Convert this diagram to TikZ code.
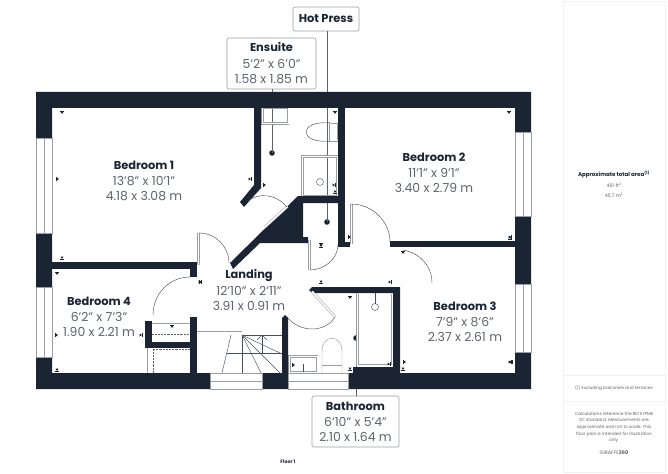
\documentclass[tikz,border=0pt]{standalone}
\usepackage{fontspec}
\usepackage{tikz}
\usetikzlibrary{positioning}
\setmainfont[Ligatures=NoCommon]{Poppins}
\definecolor{wallcol}{HTML}{1A2433}
\definecolor{dimcol}{HTML}{5F646B}
\definecolor{fixcol}{HTML}{9A9EA3}
\definecolor{panelcol}{HTML}{F0F0F0}

\begin{document}
\begin{tikzpicture}[
            x = 1pt,
            y = -1pt,
            node distance = 5.5pt, % gap between text lines
            semithick
            ]

        \tikzstyle{wall}=[fill = wallcol, draw = none]
        \tikzstyle{thinline}=[draw = wallcol!80, line width = 0.45pt]
        \tikzstyle{fixture}=[draw = fixcol, line width = 0.6pt, double = white, double distance = 1pt]
        \tikzstyle{leaf}=[draw = fixcol, line width = 0.5pt, double = white, double distance = 1.6pt]
        \tikzstyle{glass}=[draw = fixcol, line width = 0.5pt, fill = white]
        \tikzstyle{leader}=[draw = dimcol, line width = 0.45pt]
        \tikzstyle{roomname}=[inner sep = 0pt, yshift = -1pt, text height = 7.5pt, text depth = 1.5pt, font = \fontsize{11.4}{12}\selectfont\bfseries, text = wallcol]
        \tikzstyle{roomdim}=[inner sep = 0pt, text height = 7.5pt, text depth = 1.5pt, font = \fontsize{12.4}{13}\selectfont, text = dimcol]
        \tikzstyle{labelbox}=[draw = fixcol, line width = 0.6pt, fill = white, rounded corners = 2pt, inner sep = 0pt]
        \tikzstyle{small}=[inner sep = 0pt, align = center, text = dimcol, font = \fontsize{4.3}{6.7}\selectfont]

        \useasboundingbox (0,0) rectangle (668,473);
        \fill[white] (0,0) rectangle (668,473);

        % side panel
        \draw[panelcol, line width = 0.6pt] (563,1) -- (665,1) -- (665,472) -- (563,472) -- cycle;
        \draw[panelcol, line width = 0.6pt] (563,375) -- (665,375);
        \draw[panelcol, line width = 0.6pt] (563,401) -- (665,401);

        % label boxes
        \node[labelbox, minimum width = 66pt, minimum height = 24pt] (HOTBOX) at (326,19) {};
        \node[labelbox, minimum width = 89pt, minimum height = 51pt] (ENSBOX) at (271.5,63.5) {};
        \node[labelbox, minimum width = 87pt, minimum height = 51pt] (BATHBOX) at (355.5,421.5) {};

        % leaders with their dots
        \fill[wallcol] (272,153) circle (2.8pt) coordinate (ENSDOT);
        \fill[wallcol] (327,222) circle (2.8pt) coordinate (HOTDOT);
        \fill[wallcol] (356,338) circle (2.8pt) coordinate (BATHDOT);
        \draw[leader] (ENSBOX.south -| ENSDOT) -- (ENSDOT);
        \draw[leader] (HOTBOX.south -| HOTDOT) -- (HOTDOT);
        \draw[leader] (BATHBOX.north -| BATHDOT) -- (BATHDOT);

        % ensuite fittings
        \draw[fixture] (262.5,108) rectangle (288,123.5);
        \draw[fixture] (330,123) rectangle (338,141);
        \draw[thinline] (330,123) .. controls (298,120) and (298,144) .. (330,141);
        \draw[fixture] (302.5,156.5) rectangle (337.5,196);
        \draw[thinline] (320,182) circle (3.5pt);

        % bathroom fittings
        \draw[fixture] (357.5,293) rectangle (392,365);
        \draw[fixcol, line width = 1.6pt] (356.5,293) -- (356.5,366);
        \draw[thinline] (375,307) circle (3.5pt);
        \draw[thinline] (375,293) -- (375,303.5);
        \draw[fixture] (289.5,356.5) rectangle (317,372);
        \draw[thinline] (303,364) -- (303,372);
        \draw[thinline, draw = fixcol] (322,373) -- (322,351) .. controls (322,334) and (342,334) .. (342,351) -- (342,373);
        \draw[thinline, draw = fixcol] (322,365) -- (342,365);

        % bedroom 4 cupboards
        \draw[fixture] (152,324) -- (190,324);
        \draw[thinline, densely dotted, draw = dimcol] (152,334) -- (190,334);
        \draw[thinline, densely dotted, draw = dimcol] (153,349) rectangle (190,373);
        \draw[fixture] (148,348) -- (148,373);

        % stairs
        \draw[fixture] (197,332) -- (242,332);
        \draw[thinline] (242,335) -- (282,335);
        \draw[thinline] (227,353) -- (282,353);
        \draw[thinline] (231,335) -- (222,373);
        \draw[thinline] (242,335) -- (242,373);
        \draw[thinline] (242,335) -- (261,373);
        \draw[thinline] (242,335) -- (280,373);
        \draw[thinline] (242,335) -- (282,354);
        \draw[thinline] (262,335) -- (262,353);
        \draw[thinline] (257,340) -- (262,335) -- (267,340);

        % walls
        \fill[wall, even odd rule] (36,92) rectangle (531,389) (52,108) rectangle (515,373);
        \fill[wall] (52,262) rectangle (197,269);
        \fill[wall] (190,262) rectangle (197,277);
        \fill[wall] (190,317) rectangle (197,373);
        \fill[wall] (145,342) rectangle (190,348);
        \fill[wall] (145,321) rectangle (152,348);
        \fill[wall] (282,373) -- (282,318) -- (285,315) -- (288,318) -- (288,373) -- cycle;
        \fill[wall] (353,373) -- (353,367) -- (393,367) -- (393,293) -- (312,293) -- (309,290) -- (312,287) -- (400,287) -- (400,373) -- cycle;
        \fill[wall] (338,108) rectangle (345,247);
        \fill[wall] (338,242) rectangle (350,247);
        \fill[wall] (390,241) rectangle (515,247);
        \fill[wall] (254,108) -- (254,185) -- (240,202) -- (244,207) -- (261,188) -- (261,108) -- cycle;
        \fill[wall] (298,196) -- (230,263) -- (233,269) -- (260,243) -- (308,243) -- (308,237) -- (303,237) -- (303,203) -- (338,203) -- (338,196) -- cycle;

        % windows and openings
        \foreach \ya/\yb in {138/233, 287/357} {
            \draw[glass] (36,\ya) rectangle (52,\yb);
            \draw[glass] (44,\ya) -- (44,\yb);
        }
        \foreach \ya/\yb in {132/216, 284/352} {
            \draw[glass] (515,\ya) rectangle (531,\yb);
            \draw[glass] (523,\ya) -- (523,\yb);
        }
        \foreach \xa/\xb in {210/262, 288/348} {
            \draw[glass] (\xa,373) rectangle (\xb,389);
            \draw[glass] (\xa,381) -- (\xb,381);
        }

        % doors
        \draw[leaf] (198.5,233) -- (198.5,265);
        \draw[thinline] (199,233) .. controls (216,233) and (229,247) .. (229,263);
        \draw[leaf] (153,316) -- (190,316);
        \draw[thinline] (153,315) .. controls (153,294) and (169,277) .. (190,277);
        \draw[leaf] (351.5,204) -- (351.5,244);
        \draw[thinline] (351,204) .. controls (372,204) and (390,221) .. (390,242);
        \draw[leaf] (400,284) -- (432,284);
        \draw[thinline] (403,250) .. controls (420,253) and (432,266) .. (432,283);
        \draw[leaf] (309.5,240) -- (309.5,270);
        \draw[thinline] (310,270) .. controls (325,270) and (338,258) .. (338,245);
        \draw[leaf] (265,227) -- (287.5,206.5);
        \draw[thinline] (248,201) .. controls (258,193) and (275,193) .. (287,207);
        \draw[leaf] (312,291.5) -- (335,317);
        \draw[thinline] (335,317) .. controls (325,333) and (300,333) .. (287,317);

        % measuring marks
        \foreach \tx/\ty/\ta in {62/111/90, 56/179/180, 62/259/270, 57/272/90, 55/335/180, 57/371/270,
                142/335/0, 199/282/180, 201/282/0, 172/325/90, 292/365/180,
                335/111/90, 251/179/0, 263/185/180, 335/185/0, 335/193/270, 321/243/90, 321/247/270,
                348/237/180, 403/251/90, 321/283/270, 350/296/90, 391/282/0, 403/362/180, 403/370/270,
                512/362/0, 350/370/270, 390/364/0, 509/111/90, 511/237/0, 510/239/270, 511/362/0} {
            \fill[wallcol, shift = {(\tx,\ty)}, rotate = \ta] (-2.4,-1.5) -- (0,0) -- (-2.4,1.5) -- cycle;
            \draw[wallcol, line width = 0.4pt, shift = {(\tx,\ty)}, rotate = \ta] (0.2,-1.6) -- (0.2,1.6);
        }

        % room text
        \node[roomname] (BED1) at (144,165) {Bedroom 1};
        \node[roomdim] (BED1A) [below = 6.5pt of BED1] {13'8" x 10'1"};
        \node[roomdim] (BED1B) [below = of BED1A] {4.18 x 3.08 m};

        \node[roomname] (BED2) at (434,157) {Bedroom 2};
        \node[roomdim] (BED2A) [below = 6.5pt of BED2] {11'1" x 9'1"};
        \node[roomdim] (BED2B) [below = of BED2A] {3.40 x 2.79 m};

        \node[roomname] (BED3) at (465,306) {Bedroom 3};
        \node[roomdim] (BED3A) [below = 6.5pt of BED3] {7'9" x 8'6"};
        \node[roomdim] (BED3B) [below = of BED3A] {2.37 x 2.61 m};

        \node[roomname] (BED4) at (99,301) {Bedroom 4};
        \node[roomdim] (BED4A) [below = 6.5pt of BED4] {6'2" x 7'3"};
        \node[roomdim] (BED4B) [below = of BED4A] {1.90 x 2.21 m};

        \node[roomname] (LAND) at (249,274) {Landing};
        \node[roomdim] (LANDA) [below = 7.5pt of LAND] {12'10" x 2'11"};
        \node[roomdim] (LANDB) [below = of LANDA] {3.91 x 0.91 m};

        \node[roomname] at (HOTBOX) (HOT) {Hot Press};

        \node[roomname] (ENS) at (271.5,48) {Ensuite};
        \node[roomdim] (ENSA) [below = 6.5pt of ENS] {5'2" x 6'0"};
        \node[roomdim] (ENSB) [below = of ENSA] {1.58 x 1.85 m};

        \node[roomname] (BATH) at (355.5,406) {Bathroom};
        \node[roomdim] (BATHA) [below = 6.5pt of BATH] {6'10" x 5'4"};
        \node[roomdim] (BATHB) [below = of BATHA] {2.10 x 1.64 m};

        % panel text
        \node[small, text = wallcol, font = \fontsize{5.5}{6.7}\selectfont\bfseries] (AREA) at (614,174) {Approximate total area\textsuperscript{(1)}};
        \node[small, font = \fontsize{4.8}{6.7}\selectfont] (AREAFT) at (614,185) {491 ft\textsuperscript{2}};
        \node[small, font = \fontsize{4.8}{6.7}\selectfont] (AREAM) at (614,195) {45.7 m\textsuperscript{2}};
        \node[small] (NOTE) at (614,388) {(1) Excluding balconies and terraces};
        \node[small] (CALC) at (614,427.5) {Calculations reference the RICS IPMS\\3C standard. Measurements are\\approximate and not to scale. This\\floor plan is intended for illustration\\only.};
        \node[small, font = \fontsize{5}{6.7}\selectfont] (BRAND) at (614,453) {GIRAFFE\textbf{360}};
        \node[small, text = wallcol, font = \fontsize{4.8}{6.7}\selectfont\bfseries] (FLOOR) at (288,462) {Floor 1};

\end{tikzpicture}
\end{document}
